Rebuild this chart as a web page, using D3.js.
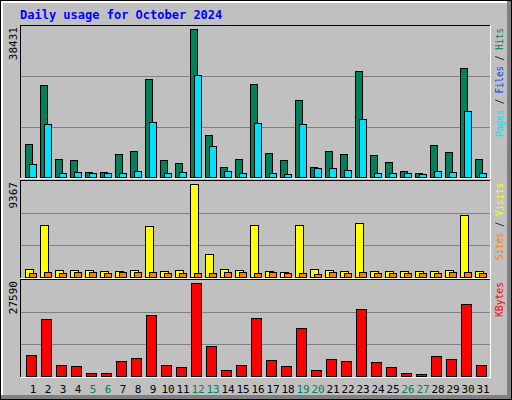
<!DOCTYPE html>
<html><head><meta charset="utf-8">
<script src="https://cdn.jsdelivr.net/npm/d3@7"></script>
<style>body{margin:0;background:#fff}svg{display:block}text{font-family:"DejaVu Sans Mono",monospace}</style>
</head><body>
<script>
const days = d3.range(1, 32);
const weekends = [5, 6, 12, 13, 19, 20, 26, 27];
const hits = [8450, 23830, 4800, 4540, 1410, 1410, 6100, 6880, 25390, 4540, 3750, 38431, 10790, 2710, 4800, 24090,
  6360, 4540, 19920, 2710, 6880, 6100, 27480, 5840, 4010, 1670, 1150, 8190, 6620, 28260, 4800];
const pages = [3490, 13660, 1150, 1410, 1150, 1150, 1150, 1670, 14180, 1150, 1410, 26430, 7930, 1670, 1150, 13920,
  1150, 890, 13660, 2450, 2450, 1930, 14960, 1150, 1150, 1150, 890, 1670, 1410, 17050, 1150];
const visits = [840, 5200, 740, 740, 740, 640, 640, 740, 5100, 640, 740, 9367, 2360, 840, 740, 5200,
  640, 540, 5200, 840, 740, 640, 5400, 640, 640, 640, 640, 640, 740, 6220, 640];
const sites = [440, 540, 440, 540, 540, 440, 540, 540, 540, 440, 440, 440, 440, 540, 540, 440,
  540, 440, 440, 335, 540, 440, 540, 440, 440, 440, 440, 440, 540, 540, 440];
const kbytes = [6130, 17010, 3410, 3110, 1000, 1000, 4320, 5230, 18220, 3410, 2810, 27590, 8850, 1900, 3410, 17320,
  4620, 3110, 14290, 1900, 4930, 4320, 19730, 4020, 2810, 1000, 700, 5830, 4930, 21240, 3410];

const W = 512, H = 400;
const svg = d3.select('body').append('svg').attr('width', W).attr('height', H);

// frame
svg.append('rect').attr('width', W).attr('height', H).attr('fill', '#000');
svg.append('rect').attr('x', 1).attr('y', 1).attr('width', W - 2).attr('height', H - 2).attr('fill', '#808080');
svg.append('rect').attr('x', 1).attr('y', 1).attr('width', W - 6).attr('height', H - 6).attr('fill', '#fff');
svg.append('rect').attr('x', 3).attr('y', 3).attr('width', W - 8).attr('height', H - 8).attr('fill', '#c0c0c0');

svg.append('text').attr('x', 20).attr('y', 19).text('Daily usage for October 2024')
  .attr('fill', '#0000ff').style('font-weight', 'bold').style('font-size', '12px');

const x = d3.scaleLinear().domain([1, 32]).range([25, 490]);

const panels = [
  { top: 25, bottom: 179, base: 177, max: 38431, len: 109,
    series: [{ v: hits, c: '#00805c', dx: 0, w: 7 }, { v: pages, c: '#00e0ff', dx: 4, w: 7 }],
    label: [['Pages', '#00e0ff'], [' / ', '#000'], ['Files', '#0040ff'], [' / ', '#000'], ['Hits', '#00805c']] },
  { top: 180, bottom: 279, base: 277, max: 9367, len: 77,
    series: [{ v: visits, c: '#ffff00', dx: 0, w: 8 }, { v: sites, c: '#ff8000', dx: 4, w: 7 }],
    label: [['Sites', '#ff8000'], [' / ', '#000'], ['Visits', '#ffff00']] },
  { top: 279, bottom: 378, base: 376, max: 27590, len: 35,
    series: [{ v: kbytes, c: '#ff0000', dx: 1, w: 10 }],
    label: [['KBytes', '#ff0000']] }
];

panels.forEach(p => {
  const g = svg.append('g');
  // inset border
  g.append('line').attr('x1', 20).attr('x2', 491).attr('y1', p.top + 0.5).attr('y2', p.top + 0.5).attr('stroke', '#000');
  g.append('line').attr('x1', 20.5).attr('x2', 20.5).attr('y1', p.top).attr('y2', p.bottom).attr('stroke', '#000');
  g.append('line').attr('x1', 20).attr('x2', 491).attr('y1', p.bottom - 0.5).attr('y2', p.bottom - 0.5).attr('stroke', '#fff');
  g.append('line').attr('x1', 490.5).attr('x2', 490.5).attr('y1', p.top).attr('y2', p.bottom).attr('stroke', '#fff');

  const h = (p.base - p.top - 4);
  const y = d3.scaleLinear().domain([0, p.max]).range([p.base, p.base - h]);
  const step = (p.base - p.top - 1) / 3;
  [1, 2].forEach(k => g.append('line').attr('x1', 21).attr('x2', 490)
    .attr('y1', Math.round(p.base - step * k) + 0.5).attr('y2', Math.round(p.base - step * k) + 0.5)
    .attr('stroke', '#808080'));

  p.series.forEach(s => {
    g.selectAll(null).data(s.v).join('rect')
      .attr('x', (d, i) => Math.round(x(days[i])) + s.dx + 0.5)
      .attr('y', d => Math.round(y(d)) + 0.5)
      .attr('width', s.w)
      .attr('height', d => Math.max(1, p.base - Math.round(y(d))))
      .attr('fill', s.c).attr('stroke', '#000');
  });

  g.append('text').attr('transform', `translate(17,${p.top + 2}) rotate(-90)`)
    .attr('text-anchor', 'end').style('font-size', '11px').text(p.max);

  const t = g.append('text').attr('transform', `translate(503,${p.top + 3}) rotate(-90)`)
    .attr('text-anchor', 'end').style('font-size', '11px')
    .attr('textLength', p.len).attr('lengthAdjust', 'spacingAndGlyphs');
  p.label.forEach(([s, c]) => t.append('tspan').attr('fill', c).text(s));
});

svg.append('g').selectAll('text').data(days).join('text')
  .attr('x', d => x(d) + 8).attr('y', 393).attr('text-anchor', 'middle')
  .style('font-size', '11px')
  .attr('fill', d => weekends.includes(d) ? '#00805c' : '#000')
  .text(d => d);
</script>
</body></html>
